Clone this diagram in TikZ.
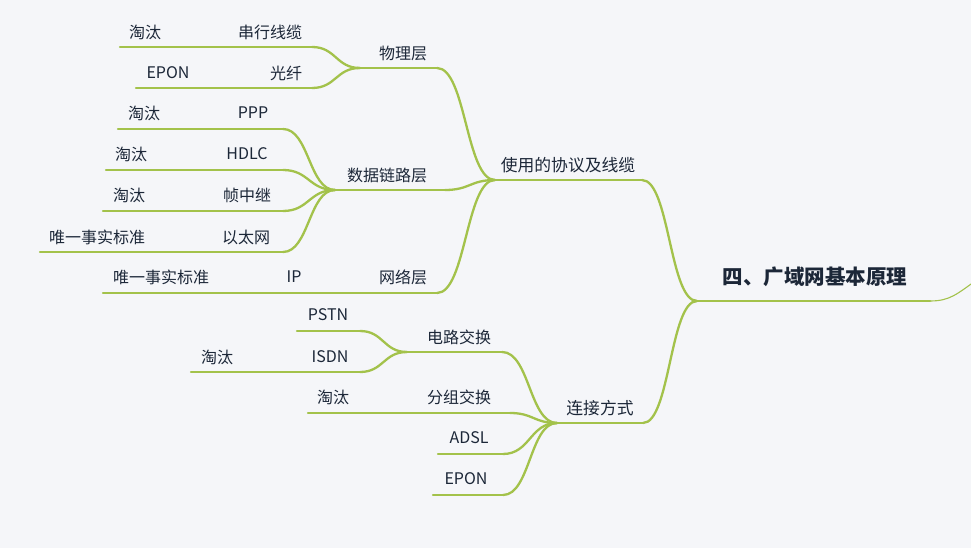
\documentclass[tikz,border=0pt]{standalone}
\usepackage{fontspec}
\setmainfont{Noto Sans CJK SC}
\usetikzlibrary{calc}
\definecolor{ink}{HTML}{1C2738}
\definecolor{grn}{HTML}{A3C24B}
\definecolor{bg}{HTML}{F5F6F9}
\tikzset{
  lbl/.style={text=ink, font=\fontsize{16}{18}\selectfont, inner sep=0pt},
  lbla/.style={text=ink, font=\fontsize{16.8}{20}\selectfont, inner sep=0pt},
  rootlbl/.style={text=ink, font=\bfseries\fontsize{20.5}{24}\selectfont, inner sep=0pt},
  br/.style={draw=grn, line width=2.3pt, line cap=round},
  thin/.style={draw=grn, line width=1.1pt},
}
% name, style, text-centre x, text-centre y, text, underline left x, right x, underline y
\newcommand\topic[8]{%
  \coordinate (#1-l) at (#6,#8);
  \coordinate (#1-r) at (#7,#8);
  \node[#2] (#1) at (#3,#4) {#5};
  \draw[br] (#1-l) -- (#1-r);}
\newcommand\lnk[2]{%
  \draw[br] let \p1=(#1-r), \p2=(#2-l), \p3=($(\p1)!0.5!(\p2)$) in
    (\p1) .. controls (\x3,\y1) and (\x3,\y2) .. (\p2);}
\newcommand\chain[2]{\draw[br] (#1-r) -- (#2-l);}
\begin{document}
\begin{tikzpicture}[x=1pt,y=-1pt]
\fill[bg] (0,0) rectangle (971,548);
\useasboundingbox (0,0) rectangle (971,548);
\clip (0,0) rectangle (971,548);

% root and first level
\topic{root}{rootlbl}{815}{277}{四、广域网基本原理}{697}{930}{301}
\topic{A}{lbla}{568}{165}{使用的协议及线缆}{495}{642}{180}
\topic{B}{lbla}{600}{408}{连接方式}{557}{643}{423}

% 使用的协议及线缆
\topic{A1}{lbl}{403}{53}{物理层}{360}{437}{68}
\topic{A2}{lbl}{387}{175}{数据链路层}{335}{445}{190}
\topic{A3}{lbl}{403}{277}{网络层}{372}{437}{293}
\topic{A3a}{lbl}{294}{277}{IP}{270}{315}{293}
\topic{A3b}{lbl}{161}{277}{唯一事实标准}{103}{218}{293}

\topic{A1a}{lbl}{270}{32}{串行线缆}{230}{312}{47}
\topic{A1a1}{lbl}{145}{32}{淘汰}{120}{172}{47}
\topic{A1b}{lbl}{286}{73}{光纤}{262}{312}{88}
\topic{A1b1}{lbl}{168}{73}{EPON}{136}{200}{88}

\topic{A2a}{lbl}{253}{113}{PPP}{228}{283}{129}
\topic{A2a1}{lbl}{144}{113}{淘汰}{118}{170}{129}
\topic{A2b}{lbl}{247}{154}{HDLC}{216}{283}{170}
\topic{A2b1}{lbl}{131}{154}{淘汰}{106}{157}{170}
\topic{A2c}{lbl}{247}{195}{帧中继}{213}{283}{211}
\topic{A2c1}{lbl}{129}{195}{淘汰}{103}{155}{211}
\topic{A2d}{lbl}{246}{237}{以太网}{213}{283}{252}
\topic{A2d1}{lbl}{97}{237}{唯一事实标准}{40}{155}{252}

% 连接方式
\topic{B1}{lbl}{459}{337}{电路交换}{407}{502}{352}
\topic{B1a}{lbl}{328}{315}{PSTN}{297}{360}{331}
\topic{B1b}{lbl}{330}{357}{ISDN}{300}{360}{372}
\topic{B1b1}{lbl}{217}{357}{淘汰}{191}{245}{372}
\topic{B2}{lbl}{459}{397}{分组交换}{420}{510}{413}
\topic{B2a}{lbl}{333}{397}{淘汰}{308}{360}{413}
\topic{B3}{lbl}{469}{438}{ADSL}{438}{503}{454}
\topic{B4}{lbl}{466}{479}{EPON}{433}{503}{495}

% connectors
\lnk{A}{root}
\lnk{B}{root}
\lnk{A1}{A}
\lnk{A2}{A}
\lnk{A3}{A}
\chain{A3a}{A3}
\chain{A3b}{A3a}
\lnk{A1a}{A1}
\lnk{A1b}{A1}
\chain{A1a1}{A1a}
\chain{A1b1}{A1b}
\lnk{A2a}{A2}
\lnk{A2b}{A2}
\lnk{A2c}{A2}
\lnk{A2d}{A2}
\chain{A2a1}{A2a}
\chain{A2b1}{A2b}
\chain{A2c1}{A2c}
\chain{A2d1}{A2d}
\lnk{B1}{B}
\lnk{B2}{B}
\lnk{B3}{B}
\lnk{B4}{B}
\lnk{B1a}{B1}
\lnk{B1b}{B1}
\chain{B1b1}{B1b}
\chain{B2a}{B2}

% tail leaving the root to the right
\coordinate (tail) at (978,279);
\draw[thin] (root-r) .. controls (950,301) and (957,294) .. (tail);
\end{tikzpicture}
\end{document}
